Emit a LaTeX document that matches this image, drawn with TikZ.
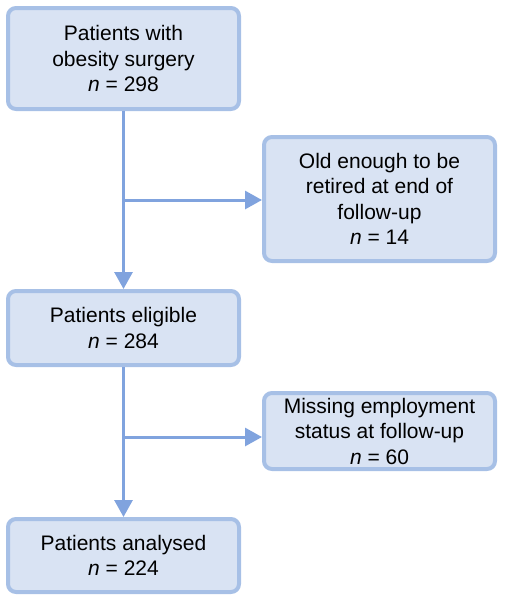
\documentclass[tikz,border=0pt]{standalone}
\usepackage{fontspec}
\setmainfont{Liberation Sans}
\usetikzlibrary{arrows.meta}
\definecolor{boxfill}{HTML}{D9E3F3}
\definecolor{boxline}{HTML}{A7C0E6}
\definecolor{arrowc}{HTML}{80A3DE}
\begin{document}
\begin{tikzpicture}[x=1pt,y=-1pt,
  flowbox/.style={draw=boxline,fill=boxfill,line width=4pt,rounded corners=8pt,
    minimum width=231pt,align=center,inner sep=0pt,
    font=\fontsize{21pt}{25.5pt}\selectfont},
  flowarrow/.style={draw=arrowc,line width=3pt,-{Triangle[length=17pt,width=18pt]}}]
\useasboundingbox (0,0) rectangle (504,600);
\node[flowbox,minimum height=101pt] (b1) at (123.5,58.5) {Patients with\\obesity surgery\\\textit{n} = 298};
\node[flowbox,minimum height=124pt] (b2) at (379.5,199) {Old enough to be\\retired at end of\\follow-up\\\textit{n} = 14};
\node[flowbox,minimum height=74pt] (b3) at (123.5,328) {Patients eligible\\\textit{n} = 284};
\node[flowbox,minimum height=76pt] (b4) at (379.5,431) {Missing employment\\status at follow-up\\\textit{n} = 60};
\node[flowbox,minimum height=73pt] (b5) at (123.5,555.5) {Patients analysed\\\textit{n} = 224};
\coordinate (j1) at (123.5,200);
\coordinate (j2) at (123.5,437);
\draw[flowarrow] (b1.south) -- (b3.north);
\draw[flowarrow] (j1) -- (b2.west |- j1);
\draw[flowarrow] (b3.south) -- (b5.north);
\draw[flowarrow] (j2) -- (b4.west |- j2);
\end{tikzpicture}
\end{document}
